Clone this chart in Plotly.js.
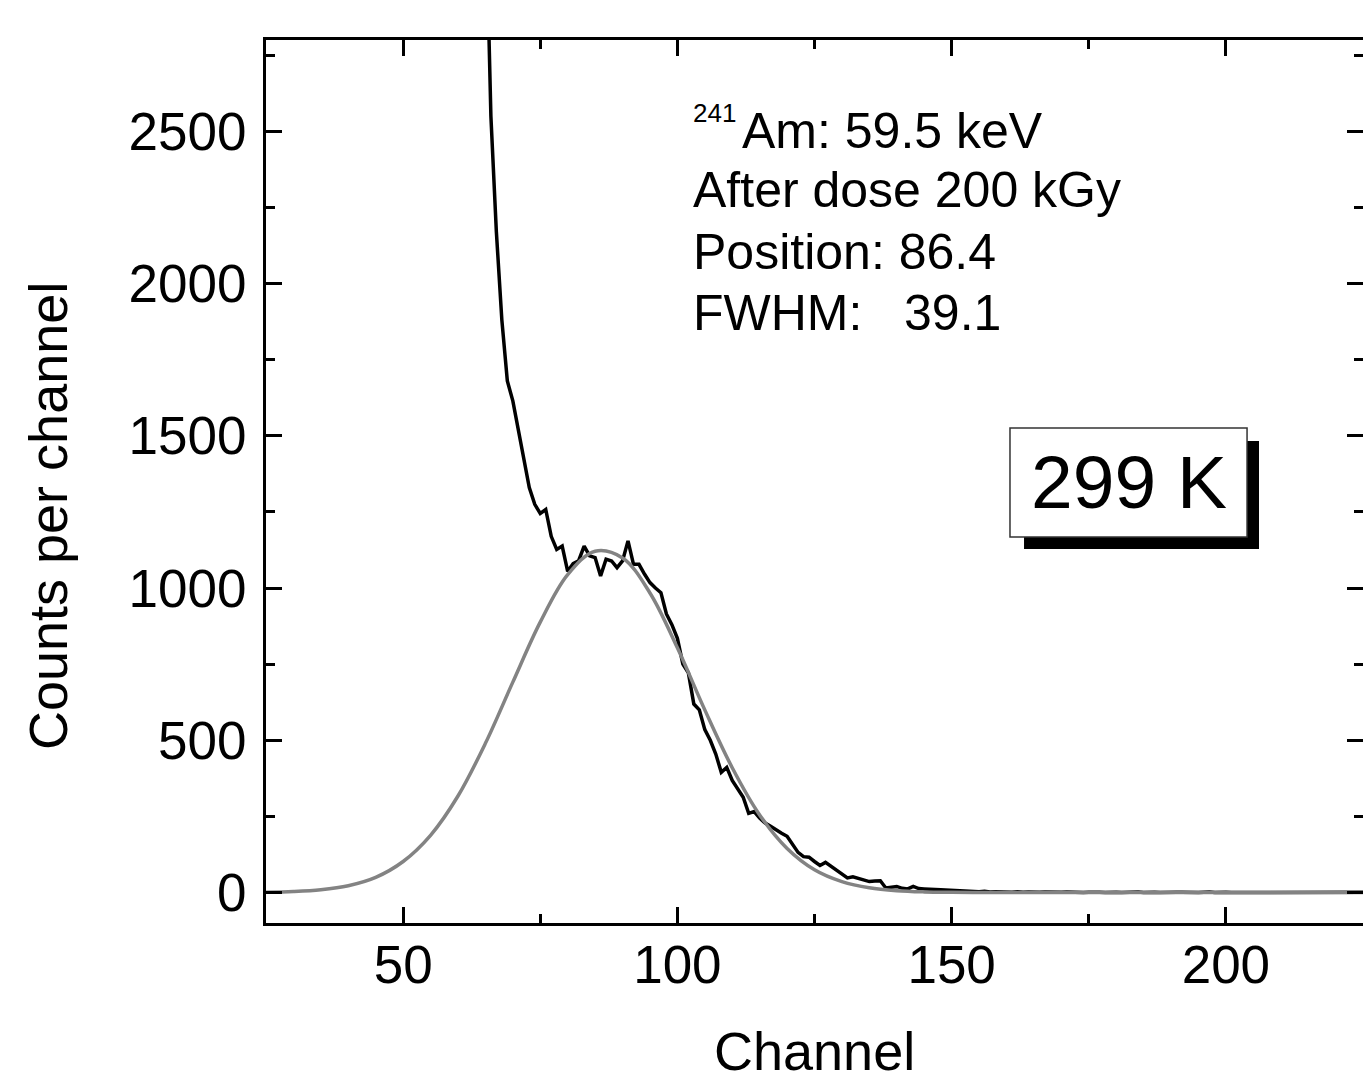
<!DOCTYPE html>
<html>
<head>
<meta charset="utf-8">
<script src="https://cdn.plot.ly/plotly-3.0.1.min.js"></script>
<style>html,body{margin:0;padding:0;background:#fff;}#chart{width:1363px;height:1083px;}</style>
</head>
<body>
<div id="chart"></div>
<script>
// Measured spectrum (counts per channel), starting at channel 63
const spectrumStartChannel = 63;
const spectrumCounts = [
  4300, 3800, 3300, 2550, 2170, 1880, 1680, 1615, 1520, 1420,
  1330, 1275, 1245, 1258, 1170, 1127, 1138, 1055, 1080, 1090,
  1138, 1106, 1100, 1040, 1095, 1089, 1067, 1089, 1155, 1078,
  1078, 1046, 1018, 1000, 985, 915, 880, 835, 750, 722,
  619, 600, 535, 500, 455, 395, 411, 368, 340, 313,
  260, 266, 245, 228, 218, 205, 195, 185, 158, 132,
  118, 116, 102, 89, 99, 86, 72, 60, 48, 52,
  46, 40, 36, 38, 39, 15, 18, 20, 14, 12,
  20, 13, 12, 12, 10, 9, 8, 7, 5, 4,
  5, 3, 3, 4, 2, 3, 2,
  2, 1, 3, 1, 2, 1, 1, 2, 1, 0,
  1, 2, 1, 1, 0, 1, 2, 1, 0, 1,
  1, 0, 1, 1, 2, 0, 1, 1, 0, 1,
  0, 1, 1, 0, 1, 0, 1, 2, 0, 1,
  1, 0, 0, 1, 1, 0, 1, 0, 1, 1,
  0, 1, 0, 0, 1, 1, 0, 1, 0, 0,
  1, 0, 1, 0, 0, 1
];
const spectrumChannels = spectrumCounts.map((_, i) => spectrumStartChannel + i);

// Gaussian fit curve (position 86.4, FWHM 39.1)
const fitChannels = [25, 30, 35, 40, 45, 50, 55, 60, 65, 70, 75, 80, 85, 90, 95, 100,
  105, 110, 115, 120, 125, 130, 135, 140, 145, 150, 155, 160, 170, 180, 190, 200, 210, 225];
const fitCounts = [1.2, 3.5, 9.3, 22.6, 50, 102, 188, 317, 490, 691, 888, 1044, 1121, 1099, 984, 804,
  600, 410, 255, 145, 75, 36, 15.5, 6.1, 2.1, 0.7, 0.2, 0.05, 0, 0, 0, 0, 0, 0];

const xTickVals = [50, 100, 150, 200];
const yTickVals = [0, 500, 1000, 1500, 2000, 2500];

const FONT = 'Liberation Sans, Arial, sans-serif';

const traces = [
  {x: spectrumChannels, y: spectrumCounts, type: 'scatter', mode: 'lines',
   line: {color: '#000000', width: 3.5}, hoverinfo: 'skip'},
  {x: fitChannels, y: fitCounts, type: 'scatter', mode: 'lines',
   line: {color: '#838383', width: 3.5, shape: 'spline', smoothing: 1}, hoverinfo: 'skip'}
];

const layout = {
  width: 1363, height: 1083,
  margin: {l: 266, r: 0, t: 40, b: 160, pad: 0},
  paper_bgcolor: '#ffffff', plot_bgcolor: '#ffffff',
  showlegend: false,
  font: {family: FONT, color: '#000000'},
  xaxis: {
    range: [25, 225], tickvals: xTickVals, ticktext: xTickVals.map(String),
    ticks: 'inside', ticklen: 16, tickwidth: 3, tickcolor: '#000',
    showline: true, linewidth: 3, linecolor: '#000', mirror: 'allticks',
    showgrid: false, zeroline: false,
    tickfont: {family: FONT, size: 53, color: '#000'},
    ticklabelstandoff: -7,
    minor: {dtick: 25, tick0: 25, ticks: 'inside', ticklen: 9, tickwidth: 3, tickcolor: '#000', showgrid: false}
  },
  yaxis: {
    range: [-100, 2800], tickvals: yTickVals, ticktext: yTickVals.map(String),
    ticks: 'inside', ticklen: 16, tickwidth: 3, tickcolor: '#000',
    showline: true, linewidth: 3, linecolor: '#000', mirror: 'allticks',
    showgrid: false, zeroline: false,
    tickfont: {family: FONT, size: 53, color: '#000'},
    ticklabelstandoff: 6,
    minor: {dtick: 250, tick0: 0, ticks: 'inside', ticklen: 9, tickwidth: 3, tickcolor: '#000', showgrid: false}
  },
  shapes: [
    {type: 'rect', xref: 'paper', yref: 'paper', x0: 0.6910, x1: 0.9052, y0: 0.4236, y1: 0.5459,
     fillcolor: '#000000', line: {width: 0}, layer: 'above'},
    {type: 'rect', xref: 'paper', yref: 'paper', x0: 0.6782, x1: 0.8943, y0: 0.4371, y1: 0.5606,
     fillcolor: '#ffffff', line: {color: '#333333', width: 1.5}, layer: 'above'}
  ],
  annotations: [
    {xref: 'paper', yref: 'paper', x: 0.3875, y: 0.9168, xanchor: 'left', yanchor: 'middle',
     text: '241', showarrow: false, font: {family: FONT, size: 26, color: '#000'}},
    {xref: 'paper', yref: 'paper', x: 0.4325, y: 0.8969, xanchor: 'left', yanchor: 'middle',
     text: 'Am: 59.5 keV', showarrow: false, font: {family: FONT, size: 50, color: '#000'}},
    {xref: 'paper', yref: 'paper', x: 0.3875, y: 0.8301, xanchor: 'left', yanchor: 'middle',
     text: 'After dose 200 kGy', showarrow: false, font: {family: FONT, size: 50, color: '#000'}},
    {xref: 'paper', yref: 'paper', x: 0.3875, y: 0.7599, xanchor: 'left', yanchor: 'middle',
     text: 'Position: 86.4', showarrow: false, font: {family: FONT, size: 50, color: '#000'}},
    {xref: 'paper', yref: 'paper', x: 0.3875, y: 0.6908, xanchor: 'left', yanchor: 'middle',
     text: 'FWHM:\u00a0\u00a0 39.1', showarrow: false, font: {family: FONT, size: 50, color: '#000'}},
    {xref: 'paper', yref: 'paper', x: 0.7863, y: 0.4989, xanchor: 'center', yanchor: 'middle',
     text: '299 K', showarrow: false, font: {family: FONT, size: 75, color: '#000'}},
    {xref: 'paper', yref: 'paper', x: 0.5, y: -0.1455, xanchor: 'center', yanchor: 'middle',
     text: 'Channel', showarrow: false, font: {family: FONT, size: 54, color: '#000'}},
    {xref: 'paper', yref: 'paper', x: -0.1987, y: 0.4609, xanchor: 'center', yanchor: 'middle',
     text: 'Counts per channel', textangle: -90, showarrow: false, font: {family: FONT, size: 54, color: '#000'}}
  ]
};

Plotly.newPlot('chart', traces, layout, {displayModeBar: false, staticPlot: true});
</script>
</body>
</html>
